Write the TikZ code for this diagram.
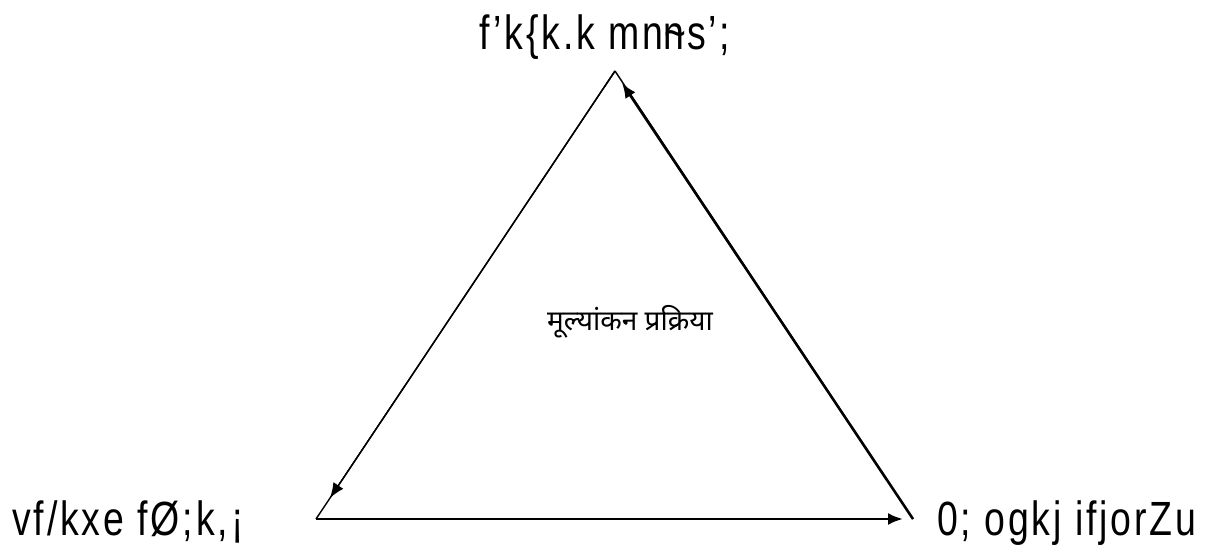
\documentclass[tikz,border=0pt]{standalone}
\usepackage{fontspec}
\usetikzlibrary{arrows.meta}
\setmainfont{Liberation Sans}[FakeStretch=0.78,LetterSpace=6]
\newfontfamily\devfont[Script=Devanagari]{Noto Sans}
\tikzset{
  edge/.style={line width=1.4pt},
  thick edge/.style={line width=2.6pt},
  tip/.style={-{Latex[length=15pt,width=12pt]}},
  lbl/.style={inner sep=0pt, font=\fontsize{48}{50}\selectfont, anchor=base west}
}
\begin{document}
\begin{tikzpicture}[x=1pt,y=-1pt]
\useasboundingbox (0,0) rectangle (1208,545);
\fill[white] (0,0) rectangle (1208,545);
\coordinate (A) at (615,71);
\coordinate (B) at (316,519);
\coordinate (C) at (913,519);
\coordinate (Atip) at (622,83);
\coordinate (Btip) at (330,498);
\coordinate (Ctip) at (903,519);
\draw[edge] (A) -- (B);
\draw[edge] (A) -- (C);
\draw[edge,tip] (A) -- (Btip);
\draw[thick edge,tip] (B) -- (Ctip);
\draw[thick edge,tip] (C) -- (Atip);
\node[lbl, anchor=base] (top) at (605,50) {f'k\{k.k mn\rlap{\kern0.02em\textasciitilde}ns';};
\node[lbl] (left) at (12,535) {vf/kxe fØ;k,¡};
\node[lbl] (right) at (937,535) {0; ogkj ifjorZu};
\node[inner sep=0pt, anchor=base, font=\devfont\fontsize{28}{30}\selectfont] (mid) at (630,331) {मूल्यांकन प्रक्रिया};
\end{tikzpicture}
\end{document}
